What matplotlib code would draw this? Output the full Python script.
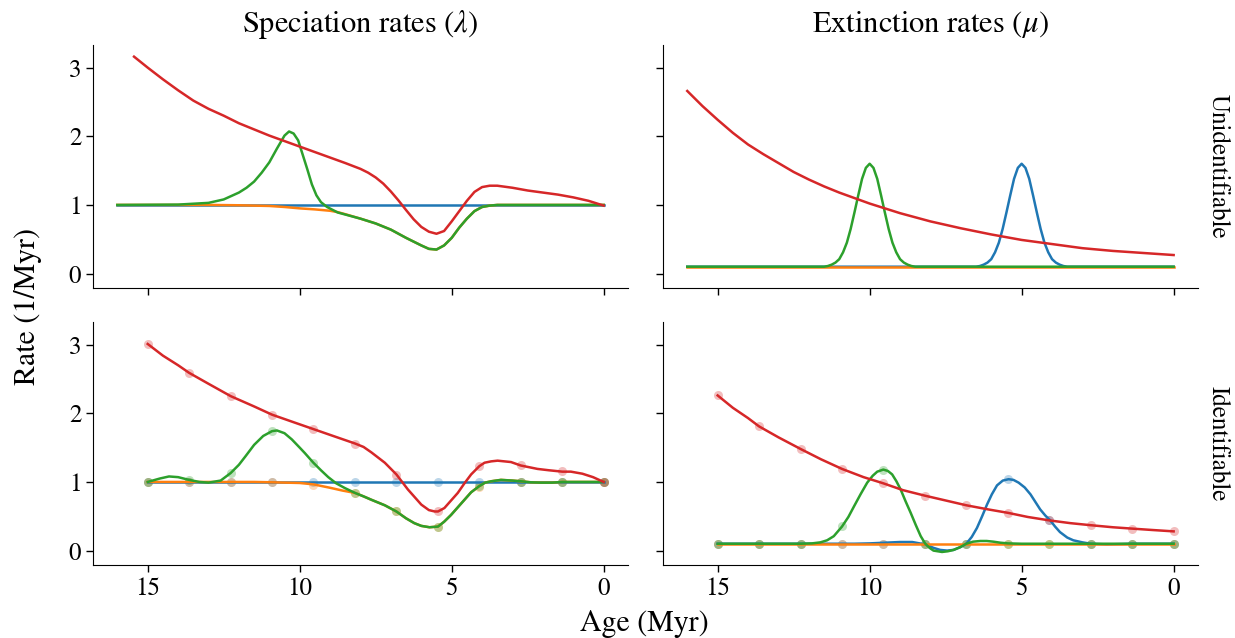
import numpy as np
import matplotlib
matplotlib.use('Agg')
import matplotlib.pyplot as plt

plt.rcParams['font.family'] = ['STIXGeneral', 'DejaVu Serif']
plt.rcParams['mathtext.fontset'] = 'stix'

# colours: tab10 defaults
c_blue, c_orange, c_green, c_red = '#1f77b4', '#ff7f0e', '#2ca02c', '#d62728'

# ---------------- top left: unidentifiable speciation ----------------
tl_blue_age = [16, 0]
tl_blue = [1.0, 1.0]

tl_orange_age = [16, 13, 12, 11, 10.5, 10, 9.5, 9, 8.75, 8.5, 8, 7.5, 7, 6.5, 6, 5.75, 5.5,
                 5.25, 5, 4.75, 4.5, 4.25, 4, 3.75, 3.5, 3, 0]
tl_orange = [1.0, 1.0, 0.995, 0.985, 0.97, 0.95, 0.935, 0.915, 0.895, 0.865, 0.80, 0.73, 0.64,
             0.52, 0.41, 0.36, 0.35, 0.41, 0.52, 0.67, 0.80, 0.91, 0.97, 0.99, 1.0, 1.0, 1.0]

tl_green_age = [16, 14, 13, 12.5, 12.25, 12, 11.75, 11.5, 11.25, 11, 10.75, 10.5, 10.35, 10.2,
                10.05, 9.9, 9.75, 9.6, 9.45, 9.3, 9.1, 8.75, 8.5, 8, 7.5, 7, 6.5, 6, 5.75, 5.5,
                5.25, 5, 4.75, 4.5, 4.25, 4, 3.75, 3.5, 3, 0]
tl_green = [1.0, 1.005, 1.03, 1.08, 1.13, 1.18, 1.25, 1.34, 1.47, 1.62, 1.82, 2.01, 2.07, 2.04,
            1.94, 1.73, 1.52, 1.30, 1.14, 1.04, 0.97, 0.89, 0.86, 0.80, 0.73, 0.64, 0.52, 0.41,
            0.36, 0.35, 0.41, 0.52, 0.67, 0.80, 0.91, 0.97, 0.99, 1.0, 1.0, 1.0]

tl_red_age = [15.45, 15, 14.5, 14, 13.5, 13, 12.5, 12, 11.5, 11, 10.5, 10, 9.5, 9, 8.5, 8, 7.75,
              7.5, 7.25, 7, 6.75, 6.5, 6.25, 6, 5.75, 5.5, 5.25, 5, 4.75, 4.5, 4.25, 4, 3.75,
              3.5, 3, 2.5, 2, 1.5, 1, 0.5, 0]
tl_red = [3.16, 3.0, 2.83, 2.67, 2.52, 2.40, 2.30, 2.19, 2.10, 2.01, 1.93, 1.85, 1.77, 1.69,
          1.61, 1.525, 1.47, 1.40, 1.31, 1.195, 1.065, 0.925, 0.79, 0.68, 0.61, 0.58, 0.62,
          0.76, 0.91, 1.06, 1.19, 1.26, 1.28, 1.28, 1.25, 1.21, 1.18, 1.15, 1.11, 1.06, 0.99]

# ---------------- top right: unidentifiable extinction ----------------
tr_orange_age = [16, 0]
tr_orange = [0.1, 0.1]

tr_green_age = [16, 11.5, 11.375, 11.25, 11.125, 11, 10.875, 10.75, 10.625, 10.5, 10.375, 10.25,
                10.125, 10, 9.875, 9.75, 9.625, 9.5, 9.375, 9.25, 9.125, 9, 8.875, 8.75, 8.625,
                8.5, 0]
tr_green = [0.1, 0.10, 0.11, 0.13, 0.16, 0.21, 0.31, 0.45, 0.65, 0.89, 1.14, 1.38, 1.54, 1.60,
            1.54, 1.38, 1.14, 0.89, 0.65, 0.45, 0.31, 0.21, 0.16, 0.13, 0.11, 0.10, 0.1]

tr_blue_age = [16, 6.5, 6.375, 6.25, 6.125, 6, 5.875, 5.75, 5.625, 5.5, 5.375, 5.25, 5.125, 5,
               4.875, 4.75, 4.625, 4.5, 4.375, 4.25, 4.125, 4, 3.875, 3.75, 3.625, 3.5, 0]
tr_blue = [0.1, 0.10, 0.11, 0.13, 0.16, 0.21, 0.31, 0.45, 0.65, 0.89, 1.14, 1.38, 1.54, 1.60,
           1.54, 1.38, 1.14, 0.89, 0.65, 0.45, 0.31, 0.21, 0.16, 0.13, 0.11, 0.10, 0.1]

tr_red_age = [16, 15.5, 15, 14.5, 14, 13.5, 13, 12.5, 12, 11.5, 11, 10.5, 10, 9, 8, 7, 6, 5, 4,
              3, 2, 1, 0]
tr_red = [2.66, 2.44, 2.24, 2.05, 1.88, 1.74, 1.61, 1.48, 1.37, 1.27, 1.18, 1.10, 1.02, 0.88,
          0.76, 0.66, 0.57, 0.49, 0.43, 0.37, 0.33, 0.30, 0.27]

# ---------------- bottom row: estimates at grid points ----------------
dot_age = [15.0, 13.64, 12.27, 10.91, 9.55, 8.18, 6.82, 5.45, 4.09, 2.73, 1.36, 0.0]

bl_blue_dots = [1.0, 1.0, 1.0, 1.0, 1.0, 1.0, 1.0, 1.0, 1.0, 1.0, 1.0, 1.0]
bl_orange_dots = [1.0, 1.0, 1.0, 0.995, 0.96, 0.84, 0.57, 0.34, 0.93, 1.0, 1.0, 1.0]
bl_green_dots = [1.0, 1.03, 1.13, 1.74, 1.28, 0.84, 0.57, 0.34, 0.94, 1.0, 1.0, 1.0]
bl_red_dots = [3.01, 2.59, 2.25, 1.98, 1.77, 1.56, 1.10, 0.58, 1.23, 1.24, 1.16, 1.0]

bl_blue_age = [15, 0]
bl_blue = [1.0, 1.0]

bl_orange_age = [15, 11.5, 10.91, 10, 9.55, 9, 8.6, 8.18, 7.9, 7.64, 7.2, 6.82, 6.5, 6.23, 6.0,
                 5.73, 5.45, 5.25, 5.02, 4.8, 4.58, 4.36, 4.09, 3.9, 3.7, 3.38, 3.0, 2.73, 2.4,
                 2.07, 1.7, 1.36, 0.7, 0]
bl_orange = [1.0, 1.0, 0.995, 0.985, 0.965, 0.915, 0.875, 0.84, 0.79, 0.74, 0.66, 0.57, 0.47,
             0.40, 0.36, 0.34, 0.35, 0.42, 0.52, 0.63, 0.74, 0.85, 0.94, 0.99, 1.01, 1.03,
             1.02, 1.01, 0.995, 0.99, 0.99, 1.0, 1.0, 1.0]

bl_green_age = [15, 14.6, 14.3, 14.0, 13.64, 13.3, 13.0, 12.6, 12.27, 12.0, 11.79, 11.5, 11.2,
                10.91, 10.75, 10.5, 10.26, 10.0, 9.83, 9.55, 9.3, 9.06, 8.8, 8.51, 8.18, 7.9,
                7.64, 7.2, 6.82, 6.5, 6.23, 6.0, 5.73, 5.45, 5.25, 5.02, 4.8, 4.58, 4.36, 4.09,
                3.9, 3.7, 3.38, 3.0, 2.73, 2.4, 2.07, 1.7, 1.36, 0.7, 0]
bl_green = [1.0, 1.05, 1.08, 1.07, 1.03, 1.0, 0.99, 1.02, 1.13, 1.25, 1.37, 1.54, 1.67, 1.74,
            1.75, 1.71, 1.62, 1.50, 1.42, 1.28, 1.17, 1.07, 0.98, 0.91, 0.84, 0.79, 0.74, 0.66,
            0.57, 0.47, 0.40, 0.36, 0.34, 0.35, 0.42, 0.52, 0.63, 0.74, 0.85, 0.94, 0.99, 1.01,
            1.03, 1.02, 1.01, 0.995, 0.99, 0.99, 1.0, 1.0, 1.0]

bl_red_age = [15, 14.5, 14.0, 13.64, 13.0, 12.27, 11.5, 10.91, 10.2, 9.55, 8.9, 8.18, 7.9, 7.64,
              7.2, 6.82, 6.44, 6.0, 5.75, 5.56, 5.45, 5.24, 5.0, 4.8, 4.58, 4.36, 4.09, 3.92,
              3.7, 3.49, 3.05, 2.73, 2.4, 2.18, 1.8, 1.36, 1.08, 0.7, 0.35, 0]
bl_red = [3.01, 2.84, 2.70, 2.59, 2.43, 2.25, 2.10, 1.98, 1.87, 1.77, 1.67, 1.56, 1.51, 1.43,
          1.28, 1.11, 0.89, 0.67, 0.59, 0.57, 0.57, 0.62, 0.74, 0.84, 0.98, 1.11, 1.23, 1.28,
          1.30, 1.31, 1.29, 1.24, 1.21, 1.19, 1.17, 1.15, 1.15, 1.12, 1.07, 1.0]

br_blue_dots = [0.1, 0.1, 0.1, 0.1, 0.1, 0.1, 0.1, 1.04, 0.44, 0.1, 0.1, 0.1]
br_orange_dots = [0.1, 0.1, 0.1, 0.1, 0.1, 0.1, 0.1, 0.1, 0.1, 0.1, 0.1, 0.1]
br_green_dots = [0.1, 0.1, 0.1, 0.36, 1.18, 0.1, 0.1, 0.1, 0.1, 0.1, 0.1, 0.1]
br_red_dots = [2.26, 1.81, 1.48, 1.19, 0.98, 0.80, 0.66, 0.55, 0.44, 0.37, 0.32, 0.28]

br_orange_age = [15, 0]
br_orange = [0.1, 0.1]

br_blue_age = [15, 10.5, 10.0, 9.5, 9.0, 8.6, 8.17, 7.9, 7.68, 7.45, 7.24, 7.02, 6.82, 6.64,
               6.47, 6.3, 6.14, 5.98, 5.81, 5.62, 5.43, 5.27, 5.1, 4.9, 4.71, 4.55, 4.39, 4.22,
               4.06, 3.9, 3.74, 3.5, 3.3, 3.0, 2.73, 2.2, 1.7, 1.36, 0]
br_blue = [0.1, 0.1, 0.105, 0.115, 0.125, 0.125, 0.09, 0.04, 0.01, 0.0, 0.01, 0.05, 0.10, 0.20,
           0.33, 0.50, 0.67, 0.82, 0.95, 1.02, 1.04, 1.03, 0.99, 0.92, 0.82, 0.71, 0.60, 0.51,
           0.44, 0.35, 0.27, 0.19, 0.15, 0.12, 0.10, 0.09, 0.095, 0.1, 0.1]

br_green_age = [15, 12.27, 11.9, 11.62, 11.4, 11.18, 10.91, 10.7, 10.52, 10.3, 10.08, 9.9, 9.75,
                9.55, 9.4, 9.26, 9.12, 8.98, 8.82, 8.65, 8.48, 8.32, 8.17, 8.03, 7.9, 7.62,
                7.43, 7.24, 7.02, 6.82, 6.6, 6.36, 6.15, 5.93, 5.7, 5.45, 5.0, 0]
br_green = [0.1, 0.1, 0.105, 0.12, 0.15, 0.21, 0.35, 0.49, 0.64, 0.82, 0.99, 1.09, 1.15, 1.18,
            1.16, 1.11, 1.01, 0.89, 0.72, 0.55, 0.37, 0.21, 0.10, 0.04, 0.0, -0.02, -0.01,
            0.01, 0.05, 0.10, 0.13, 0.14, 0.14, 0.13, 0.115, 0.105, 0.1, 0.1]

br_red_age = [15, 14.5, 14.0, 13.64, 13.0, 12.27, 11.6, 10.91, 10.2, 9.55, 8.9, 8.18, 7.5, 6.82,
              6.1, 5.45, 4.8, 4.09, 3.4, 2.73, 2.0, 1.36, 0.7, 0]
br_red = [2.26, 2.08, 1.93, 1.81, 1.65, 1.48, 1.33, 1.19, 1.07, 0.98, 0.88, 0.80, 0.73, 0.66,
          0.60, 0.55, 0.49, 0.44, 0.40, 0.37, 0.34, 0.32, 0.30, 0.28]

xticks = [15, 10, 5, 0]
yticks = [0, 1, 2, 3]

fig = plt.figure(figsize=(12.35, 6.38), dpi=100)
ax_tl = fig.add_axes([0.0753, 0.5486, 0.4332, 0.3809])
ax_tr = fig.add_axes([0.5368, 0.5486, 0.4332, 0.3809], sharex=ax_tl, sharey=ax_tl)
ax_bl = fig.add_axes([0.0753, 0.1144, 0.4332, 0.3809], sharex=ax_tl, sharey=ax_tl)
ax_br = fig.add_axes([0.5368, 0.1144, 0.4332, 0.3809], sharex=ax_tl, sharey=ax_tl)

lw = 1.8
ms = 6.5

ax_tl.plot(tl_blue_age, tl_blue, color=c_blue, lw=lw)
ax_tl.plot(tl_orange_age, tl_orange, color=c_orange, lw=lw)
ax_tl.plot(tl_green_age, tl_green, color=c_green, lw=lw)
ax_tl.plot(tl_red_age, tl_red, color=c_red, lw=lw)

ax_tr.plot(tr_blue_age, tr_blue, color=c_blue, lw=lw)
ax_tr.plot(tr_orange_age, tr_orange, color=c_orange, lw=lw)
ax_tr.plot(tr_green_age, tr_green, color=c_green, lw=lw)
ax_tr.plot(tr_red_age, tr_red, color=c_red, lw=lw)

for ax, dots in [(ax_bl, [bl_blue_dots, bl_orange_dots, bl_green_dots, bl_red_dots]),
                 (ax_br, [br_blue_dots, br_orange_dots, br_green_dots, br_red_dots])]:
    for vals, c in zip(dots, [c_blue, c_orange, c_green, c_red]):
        ax.plot(dot_age, vals, 'o', color=c, alpha=0.3, ms=ms, mec='none', zorder=1)

ax_bl.plot(bl_blue_age, bl_blue, color=c_blue, lw=lw)
ax_bl.plot(bl_orange_age, bl_orange, color=c_orange, lw=lw)
ax_bl.plot(bl_green_age, bl_green, color=c_green, lw=lw)
ax_bl.plot(bl_red_age, bl_red, color=c_red, lw=lw)

ax_br.plot(br_blue_age, br_blue, color=c_blue, lw=lw)
ax_br.plot(br_orange_age, br_orange, color=c_orange, lw=lw)
ax_br.plot(br_green_age, br_green, color=c_green, lw=lw)
ax_br.plot(br_red_age, br_red, color=c_red, lw=lw)

ax_tl.set_xlim(16.8, -0.8)
ax_tl.set_ylim(-0.21, 3.33)
ax_tl.set_xticks(xticks)
ax_tl.set_yticks(yticks)

for ax in [ax_tl, ax_tr, ax_bl, ax_br]:
    ax.spines['top'].set_visible(False)
    ax.spines['right'].set_visible(False)
    ax.tick_params(labelsize=18, length=5, width=1)
ax_tl.tick_params(labelbottom=False)
ax_tr.tick_params(labelbottom=False, labelleft=False)
ax_br.tick_params(labelleft=False)

ax_tl.set_title(r'Speciation rates ($\lambda$)', fontsize=22, pad=9)
ax_tr.set_title(r'Extinction rates ($\mu$)', fontsize=22, pad=9)

fig.text(0.0225, 0.52, 'Rate (1/Myr)', rotation=90, ha='center', va='center', fontsize=21.5)
fig.text(0.522, 0.022, 'Age (Myr)', ha='center', va='center', fontsize=21.5)
fig.text(0.986, 0.739, 'Unidentifiable', rotation=270, ha='center', va='center', fontsize=18)
fig.text(0.986, 0.305, 'Identifiable', rotation=270, ha='center', va='center', fontsize=18)

fig.savefig('out.png', dpi=100)
